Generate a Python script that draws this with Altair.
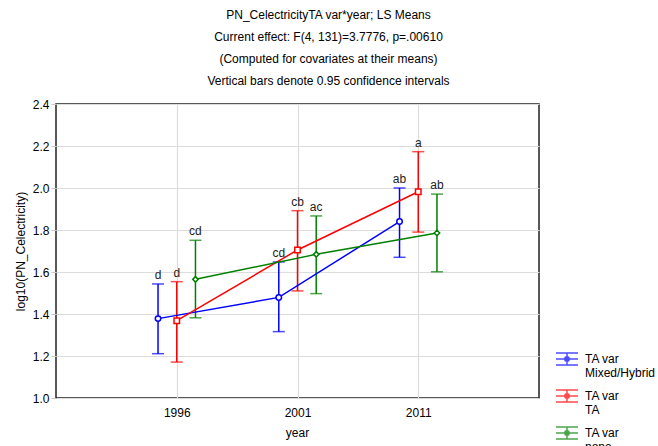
import altair as alt
import pandas as pd

years = ["1996", "2001", "2011"]
series = ["Mixed/Hybrid", "TA", "none"]
colors = ["#0000ff", "#ff0000", "#008000"]
shapes = ["circle", "square", "diamond"]

mean_mixed = [1.378, 1.479, 1.840]
mean_ta = [1.368, 1.705, 1.982]
mean_none = [1.565, 1.684, 1.786]

low_mixed = [1.211, 1.316, 1.670]
low_ta = [1.171, 1.510, 1.790]
low_none = [1.382, 1.497, 1.601]

up_mixed = [1.543, 1.648, 2.000]
up_ta = [1.554, 1.892, 2.173]
up_none = [1.751, 1.867, 1.971]

let_mixed = ["d", "cd", "ab"]
let_ta = ["d", "cb", "a"]
let_none = ["cd", "ac", "ab"]

dodge = {"Mixed/Hybrid": -0.155, "TA": 0.0, "none": 0.155}

rows = []
for s, m, lo, up, lt in [
    ("Mixed/Hybrid", mean_mixed, low_mixed, up_mixed, let_mixed),
    ("TA", mean_ta, low_ta, up_ta, let_ta),
    ("none", mean_none, low_none, up_none, let_none),
]:
    for i, y in enumerate(years):
        rows.append({"series": s, "year": y, "pos": i + 1 + dodge[s],
                     "mean": m[i], "lower": lo[i], "upper": up[i], "letter": lt[i]})
df = pd.DataFrame(rows)

FONT = "Liberation Sans"

legend_path = ("M-1,-0.1H1M-1,0.45H1M-1,1.0H1M0,-0.1V1.0"
               "M-0.2,0.45A0.2,0.2 0 1,0 0.2,0.45A0.2,0.2 0 1,0 -0.2,0.45")
color_enc = alt.Color(
    "series:N", scale=alt.Scale(domain=series, range=colors),
    legend=alt.Legend(title=None, orient="none", legendX=499, legendY=238,
                      symbolType=legend_path, symbolSize=484,
                      symbolStrokeWidth=1.5, symbolFillColor="transparent",
                      symbolOpacity=1,
                      labelExpr="['TA var', datum.label]",
                      labelBaseline="top", labelFont=FONT,
                      labelFontSize=12,
                      labelColor="#000000", labelLimit=200,
                      labelOffset=6, rowPadding=-5, padding=0))

x_enc = alt.X("pos:Q", scale=alt.Scale(domain=[0, 4], nice=False, zero=False),
              axis=alt.Axis(values=[1, 2, 3],
                            labelExpr="datum.value == 1 ? '1996' : datum.value == 2 ? '2001' : '2011'",
                            title="year", titleX=241, titleY=34, titleBaseline="middle",
                            tickSize=0, labelPadding=9, domain=False,
                            gridColor="#dcdcdc", gridWidth=1.2))
y_scale = alt.Scale(domain=[1.0, 2.4], nice=False, zero=False)
y_axis = alt.Axis(values=[1.0, 1.2, 1.4, 1.6, 1.8, 2.0, 2.2, 2.4], format=".1f",
                  title="log10(PN_Celectricity)", titleX=-36, titleY=147,
                  titleAngle=270, titleAlign="center", titleBaseline="middle",
                  tickSize=5, tickColor="#c8c8c8", labelPadding=2, domain=False,
                  gridColor="#dcdcdc", gridWidth=1.2)

base = alt.Chart(df)

rules = base.mark_rule(strokeWidth=1.5).encode(
    x=x_enc,
    y=alt.Y("lower:Q", scale=y_scale, axis=y_axis),
    y2="upper:Q",
    color=color_enc,
)
cap_lo = base.mark_tick(orient="horizontal", size=12, thickness=1.5).encode(
    x="pos:Q", y="lower:Q", color="series:N")
cap_hi = base.mark_tick(orient="horizontal", size=12, thickness=1.5).encode(
    x="pos:Q", y="upper:Q", color="series:N")

lines = base.mark_line(strokeWidth=1.5).encode(
    x="pos:Q", y="mean:Q", color="series:N", detail="series:N")

point_layers = []
for s, c, sh in zip(series, colors, shapes):
    point_layers.append(
        base.transform_filter(alt.datum.series == s)
        .mark_point(shape=sh, filled=False, fill="white", stroke=c, size=30,
                    strokeWidth=1.5, opacity=1)
        .encode(x="pos:Q", y="mean:Q")
    )

texts = base.mark_text(baseline="bottom", dy=-2, font=FONT, fontSize=12, color="#222222").encode(
    x="pos:Q", y="upper:Q", text="letter:N")

chart = alt.layer(rules, cap_lo, cap_hi, lines, *point_layers, texts).properties(
    width=483, height=294,
    autosize=alt.AutoSizeParams(type="none"),
    padding={"left": 56, "top": 104, "right": 119, "bottom": 48},
    background="white",
    title=alt.TitleParams(
        text=["PN_CelectricityTA var*year; LS Means",
              "Current effect: F(4, 131)=3.7776, p=.00610",
              "(Computed for covariates at their means)",
              "Vertical bars denote 0.95 confidence intervals"],
        font=FONT, fontSize=12, fontWeight="normal", lineHeight=22,
        anchor="middle", dx=31, offset=10, color="#000000"),
).configure_view(stroke="#222222", strokeWidth=1.5).configure_axis(
    labelFont=FONT, labelFontSize=12, labelColor="#000000",
    titleFont=FONT, titleFontSize=12, titleFontWeight="normal", titleColor="#000000",
)

chart.save("out.html", embed_options={"renderer": "svg", "actions": False})
